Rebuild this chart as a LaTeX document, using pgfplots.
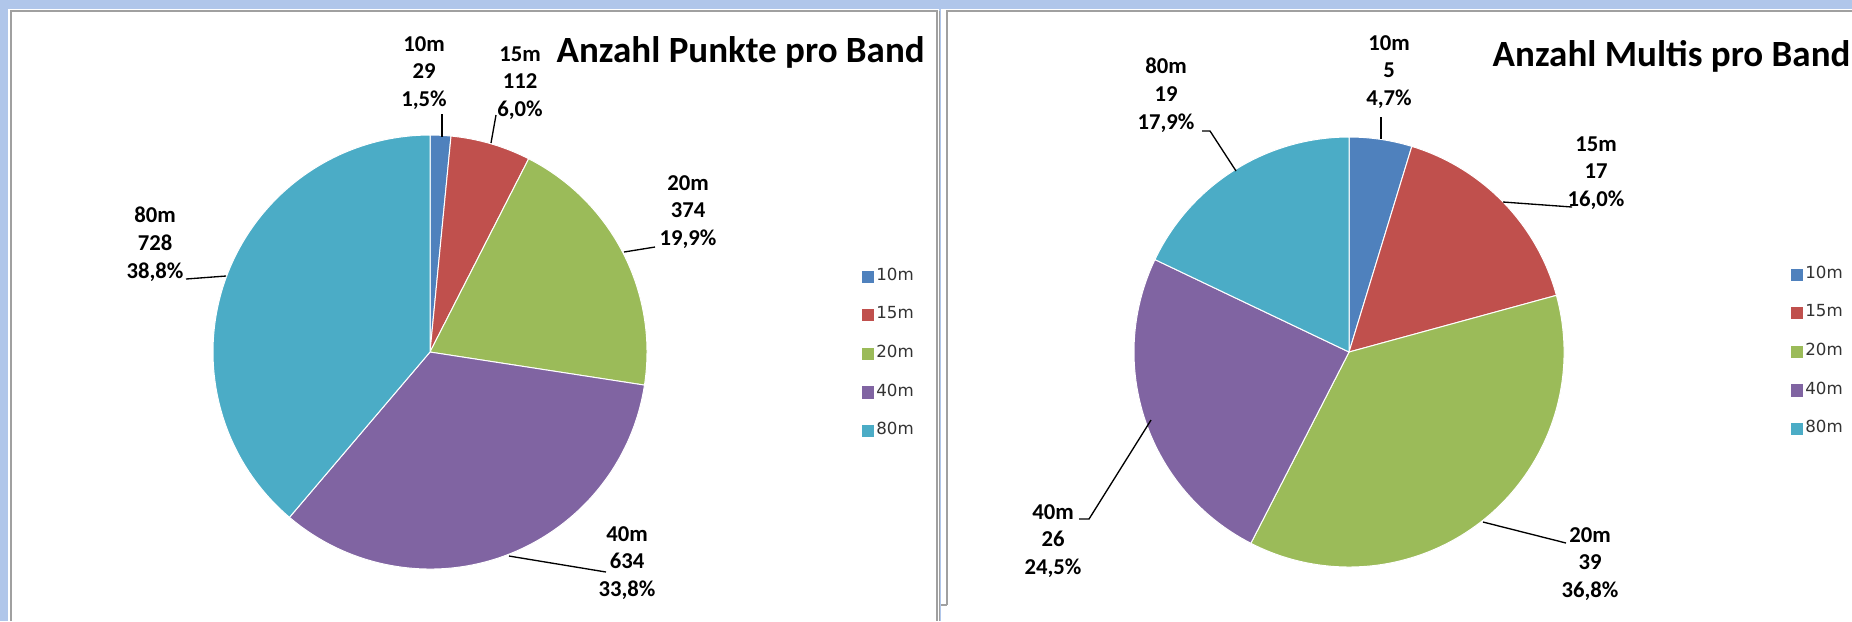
\documentclass[border=0pt]{standalone}
\usepackage{pgfplots}
\usepackage{pgfplotstable}
\pgfplotsset{compat=1.18}
\usepackage{fontspec}
\setmainfont{Carlito}
\newfontfamily\legfam{DejaVu Sans}
\definecolor{bgblue}{RGB}{176,198,234}
\definecolor{c10m}{RGB}{79,129,189}
\definecolor{c15m}{RGB}{192,80,77}
\definecolor{c20m}{RGB}{155,187,89}
\definecolor{c40m}{RGB}{128,100,162}
\definecolor{c80m}{RGB}{75,172,198}
\definecolor{framegray}{RGB}{160,160,160}
\newcommand\titlefont{\bfseries\fontsize{11.1}{12}\selectfont}
\newcommand\labfont{\bfseries\fontsize{6.8}{8.35}\selectfont}
\newcommand\legendfont{\legfam\fontsize{5.0}{6}\selectfont}

\pgfplotstableread{
band value
10m 29
15m 112
20m 374
40m 634
80m 728
}\punkte
\pgfplotstableread{
band value
10m 5
15m 17
20m 39
40m 26
80m 19
}\multis

\newcommand\drawpie[4]{% table, cx, cy, radius (px)
 \pgfplotsextra{%
  \def\tot{0}%
  \pgfplotsforeachungrouped \i in {0,1,2,3,4}{%
    \pgfplotstablegetelem{\i}{value}\of{#1}%
    \pgfmathsetmacro\tot{\tot+\pgfplotsretval}}%
  \def\cum{0}%
  \pgfmathsetmacro\rad{#4*0.3}%
  \pgfplotsforeachungrouped \i in {0,1,2,3,4}{%
    \pgfplotstablegetelem{\i}{value}\of{#1}%
    \pgfmathsetmacro\sa{90-360*(\cum/\tot)}%
    \pgfmathsetmacro\cum{\cum+\pgfplotsretval}%
    \pgfmathsetmacro\ea{90-360*(\cum/\tot)}%
    \pgfplotstablegetelem{\i}{band}\of{#1}%
    \edef\col{c\pgfplotsretval}%
    \fill[fill=\col, draw=white, line width=0.3pt] (axis cs:#2,#3) -- ++(canvas polar cs:angle=\sa,radius=\rad pt) arc[start angle=\sa,end angle=\ea,radius=\rad pt] -- cycle;
  }}}

\pgfplotsset{
  canvas/.style={x=0.3pt, y=0.3pt, y dir=reverse, xmin=0, xmax=1852, ymin=0, ymax=621,
    hide axis, clip=false, at={(0,0)}, anchor=south west,
    legend image code/.code={\fill[##1, draw=none] (0pt,-1.85pt) rectangle (3.7pt,1.85pt);},
    legend style={draw=none, fill=none, anchor=north west, font=\legendfont, text=black!80,
      row sep=5.2pt, inner sep=0pt, outer sep=0pt, nodes={inner sep=0.6pt}},
    legend cell align=left}
}
\tikzset{
  lead/.style={black, line width=0.4pt},
  lab/.style={align=center, font=\labfont, inner sep=0pt}
}

\begin{document}
\begin{tikzpicture}
% ---------- left panel ----------
\begin{axis}[canvas, name=A, legend style={at={(axis cs:862,266)}}]
\fill[bgblue] (axis cs:0,0) rectangle (axis cs:1852,621);
\fill[white] (axis cs:8,9) rectangle (axis cs:939,621);
\fill[white] (axis cs:941,9) rectangle (axis cs:1852,621);
\draw[framegray, line width=0.6pt] (axis cs:10.5,621) -- (axis cs:10.5,11) -- (axis cs:937,11) -- (axis cs:937,621);
\draw[framegray, line width=0.4pt] (axis cs:939.5,11) -- (axis cs:939.5,621);
\draw[framegray, line width=0.6pt] (axis cs:946.5,605) -- (axis cs:946.5,11) -- (axis cs:1852,11);
\draw[framegray, line width=0.4pt] (axis cs:941,605) -- (axis cs:946.5,605);
\drawpie{\punkte}{430}{352}{217}
\addlegendimage{fill=c10m}\addlegendentry{10m}
\addlegendimage{fill=c15m}\addlegendentry{15m}
\addlegendimage{fill=c20m}\addlegendentry{20m}
\addlegendimage{fill=c40m}\addlegendentry{40m}
\addlegendimage{fill=c80m}\addlegendentry{80m}
\node[anchor=west, font=\titlefont, inner sep=0pt] at (axis cs:556,52) {Anzahl Punkte pro Band};
\node[lab] at (axis cs:424,73) {10m\\29\\1,5\%};
\draw[lead] (axis cs:442,114) -- (axis cs:442,137);
\node[lab] at (axis cs:520,83) {15m\\112\\6,0\%};
\draw[lead] (axis cs:496,115) -- (axis cs:491,143);
\node[lab] at (axis cs:688,212) {20m\\374\\19,9\%};
\draw[lead] (axis cs:624,252) -- (axis cs:655,247);
\node[lab] at (axis cs:627,563) {40m\\634\\33,8\%};
\draw[lead] (axis cs:509,556) -- (axis cs:606,572);
\node[lab] at (axis cs:155,244) {80m\\728\\38,8\%};
\draw[lead] (axis cs:186,279) -- (axis cs:226,276);
\end{axis}
% ---------- right panel ----------
\begin{axis}[canvas, name=B, legend style={at={(axis cs:1791,264)}}]
\drawpie{\multis}{1349}{352}{215}
\addlegendimage{fill=c10m}\addlegendentry{10m}
\addlegendimage{fill=c15m}\addlegendentry{15m}
\addlegendimage{fill=c20m}\addlegendentry{20m}
\addlegendimage{fill=c40m}\addlegendentry{40m}
\addlegendimage{fill=c80m}\addlegendentry{80m}
\node[anchor=west, font=\titlefont, inner sep=0pt] at (axis cs:1492,56) {Anzahl Multis pro Band};
\node[lab] at (axis cs:1389,72) {10m\\5\\4,7\%};
\draw[lead] (axis cs:1381,117) -- (axis cs:1381,139);
\node[lab] at (axis cs:1596,173) {15m\\17\\16,0\%};
\draw[lead] (axis cs:1503,202) -- (axis cs:1572,207);
\node[lab] at (axis cs:1590,564) {20m\\39\\36,8\%};
\draw[lead] (axis cs:1483,522) -- (axis cs:1566,543);
\node[lab] at (axis cs:1053,541) {40m\\26\\24,5\%};
\draw[lead] (axis cs:1079,519) -- (axis cs:1089,519) -- (axis cs:1151,420);
\node[lab] at (axis cs:1166,95) {80m\\19\\17,9\%};
\draw[lead] (axis cs:1202,131) -- (axis cs:1210,131) -- (axis cs:1236,171);
\end{axis}
\pgfresetboundingbox
\path[use as bounding box] (A.south west) rectangle (A.north east);
\end{tikzpicture}
\end{document}
